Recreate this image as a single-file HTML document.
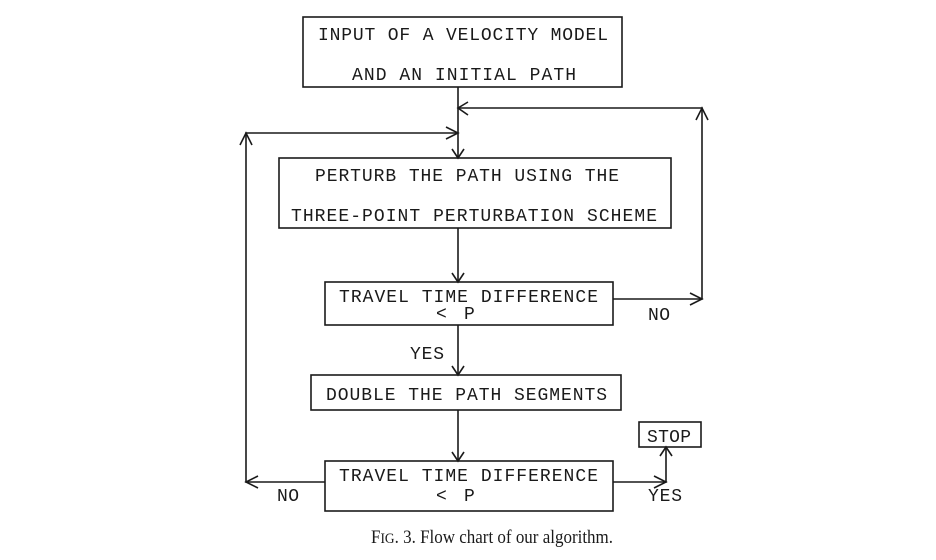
<!DOCTYPE html>
<html><head><meta charset="utf-8"><style>
html,body{margin:0;padding:0;background:#fff;}
svg{display:block;}
text{font-family:"Liberation Mono",monospace;font-size:18px;fill:#1a1a1a;}
.cap{font-family:"Liberation Serif",serif;font-size:19px;}
</style></head><body>
<svg width="936" height="560" viewBox="0 0 936 560" xmlns="http://www.w3.org/2000/svg">
<g fill="none" stroke="#1a1a1a" stroke-width="1.6">
<rect x="303" y="17" width="319" height="70"/>
<rect x="279" y="158" width="392" height="70"/>
<rect x="325" y="282" width="288" height="43"/>
<rect x="311" y="375" width="310" height="35"/>
<rect x="325" y="461" width="288" height="50"/>
<rect x="639" y="422" width="62" height="25"/>
<line x1="458" y1="87" x2="458" y2="158"/>
<polyline points="452,149 458,158 464,149"/>
<polyline points="613,299 702,299 702,108 458,108"/>
<polyline points="468,102 458,108 468,115"/>
<polyline points="696,120 702,108 708,120"/>
<polyline points="690,293 702,299 690,305"/>
<polyline points="325,482 246,482 246,133 458,133"/>
<polyline points="446,127 458,133 446,139"/>
<polyline points="240,145 246,133 252,145"/>
<polyline points="258,476 246,482 258,488"/>
<line x1="458" y1="228" x2="458" y2="282"/>
<polyline points="452,273 458,282 464,273"/>
<line x1="458" y1="325" x2="458" y2="375"/>
<polyline points="452,366 458,375 464,366"/>
<line x1="458" y1="410" x2="458" y2="461"/>
<polyline points="452,452 458,461 464,452"/>
<polyline points="613,482 666,482 666,447"/>
<polyline points="654,476 666,482 654,488"/>
<polyline points="660,456 666,447 672,456"/>
</g>
<text x="318" y="40" textLength="290" lengthAdjust="spacing">INPUT OF A VELOCITY MODEL</text>
<text x="352" y="80" textLength="224" lengthAdjust="spacing">AND AN INITIAL PATH</text>
<text x="315" y="181" textLength="304" lengthAdjust="spacing">PERTURB THE PATH USING THE</text>
<text x="291" y="221" textLength="366" lengthAdjust="spacing">THREE-POINT PERTURBATION SCHEME</text>
<text x="339" y="302" textLength="259" lengthAdjust="spacing">TRAVEL TIME DIFFERENCE</text>
<text x="436" y="319">&lt;</text><text x="464" y="319">P</text>
<text x="648" y="320" textLength="22" lengthAdjust="spacing">NO</text>
<text x="410" y="359" textLength="34" lengthAdjust="spacing">YES</text>
<text x="326" y="400" textLength="281" lengthAdjust="spacing">DOUBLE THE PATH SEGMENTS</text>
<text x="647" y="442" textLength="44" lengthAdjust="spacing">STOP</text>
<text x="339" y="481" textLength="259" lengthAdjust="spacing">TRAVEL TIME DIFFERENCE</text>
<text x="436" y="501">&lt;</text><text x="464" y="501">P</text>
<text x="277" y="501" textLength="22" lengthAdjust="spacing">NO</text>
<text x="648" y="501" textLength="34" lengthAdjust="spacing">YES</text>
<text class="cap" x="371" y="543" textLength="242" lengthAdjust="spacingAndGlyphs">F<tspan font-size="15">IG</tspan>. 3. Flow chart of our algorithm.</text>
</svg>
</body></html>
